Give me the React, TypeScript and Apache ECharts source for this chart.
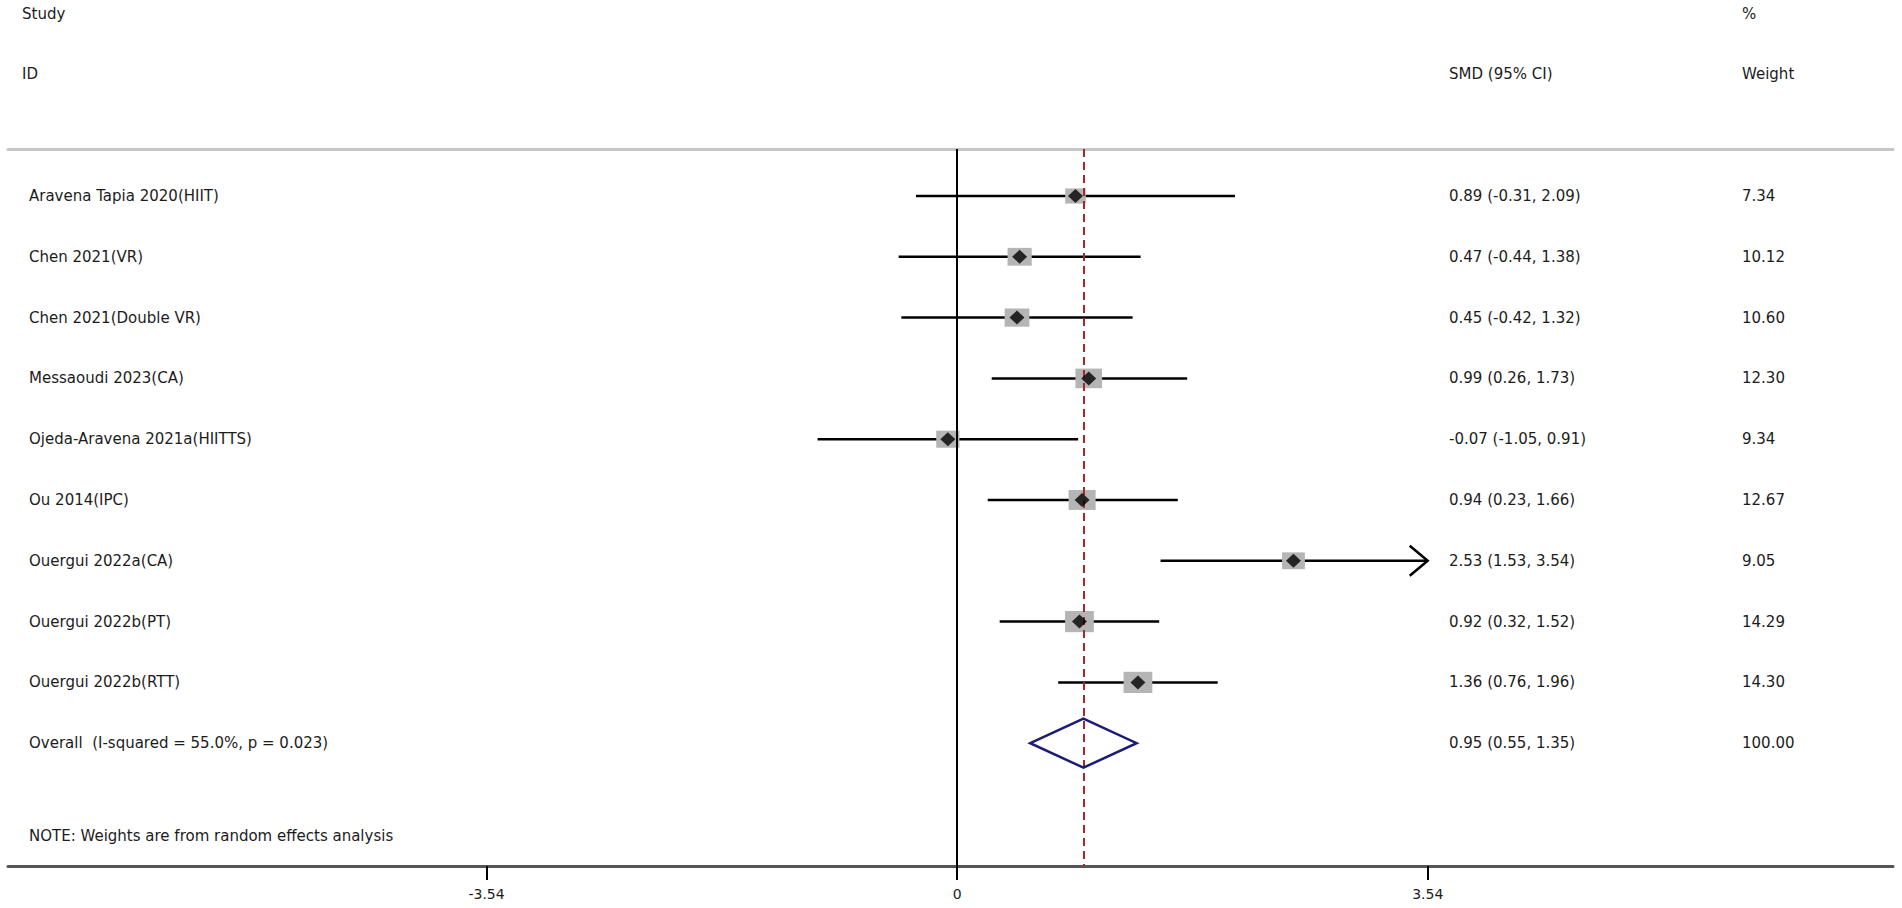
import React, { useEffect, useRef } from "react";
import * as echarts from "echarts";

const studies = [
  "Aravena Tapia 2020(HIIT)",
  "Chen 2021(VR)",
  "Chen 2021(Double VR)",
  "Messaoudi 2023(CA)",
  "Ojeda-Aravena 2021a(HIITTS)",
  "Ou 2014(IPC)",
  "Ouergui 2022a(CA)",
  "Ouergui 2022b(PT)",
  "Ouergui 2022b(RTT)",
];
const smd = [0.89, 0.47, 0.45, 0.99, -0.07, 0.94, 2.53, 0.92, 1.36];
const lower = [-0.31, -0.44, -0.42, 0.26, -1.05, 0.23, 1.53, 0.32, 0.76];
const upper = [2.09, 1.38, 1.32, 1.73, 0.91, 1.66, 3.54, 1.52, 1.96];
const weights = [7.34, 10.12, 10.6, 12.3, 9.34, 12.67, 9.05, 14.29, 14.3];

const overallLabel = "Overall  (I-squared = 55.0%, p = 0.023)";
const overallEst = 0.95;
const overallLower = 0.55;
const overallUpper = 1.35;
const overallWeight = 100.0;

const tickValues = [-3.54, 0, 3.54];
const ciClip = 3.54;
const noteText = "NOTE: Weights are from random effects analysis";

const FONT = "'DejaVu Sans', sans-serif";
const TXT = "#1c1c1c";

const fmtCI = (e: number, l: number, u: number) =>
  `${e.toFixed(2)} (${l.toFixed(2)}, ${u.toFixed(2)})`;

export default function App() {
  const ref = useRef<HTMLDivElement>(null);

  useEffect(() => {
    if (!ref.current) return;
    const chart = echarts.init(ref.current, null, { renderer: "svg" });

    const rowIdx = studies.map((_, i) => i);
    const overallRow = studies.length;
    const labels = [...studies, overallLabel];
    const ciTexts = [
      ...studies.map((_, i) => fmtCI(smd[i], lower[i], upper[i])),
      fmtCI(overallEst, overallLower, overallUpper),
    ];
    const wTexts = [...weights.map((w) => w.toFixed(2)), overallWeight.toFixed(2)];

    const textStyleBase = { fontFamily: FONT, fontSize: 15, fill: TXT };

    const option: any = {
      animation: false,
      grid: { left: 8, right: 9, top: 149, bottom: 42 },
      xAxis: [
        {
          type: "value",
          min: -7.14,
          max: 7.04,
          position: "bottom",
          axisLine: { show: true, onZero: false, lineStyle: { color: "#555555", width: 3 } },
          axisTick: {
            show: true,
            customValues: tickValues,
            length: 14,
            lineStyle: { color: "#000", width: 2 },
          },
          axisLabel: {
            show: true,
            customValues: tickValues,
            formatter: (v: number) => (v === 0 ? "0" : v.toFixed(2)),
            fontFamily: FONT,
            fontSize: 14,
            color: TXT,
            margin: 21,
          },
          splitLine: { show: false },
        },
        {
          type: "value",
          min: -7.14,
          max: 7.04,
          position: "top",
          axisLine: { show: true, onZero: false, lineStyle: { color: "#c6c6c6", width: 3 } },
          axisTick: { show: false },
          axisLabel: { show: false },
          splitLine: { show: false },
        },
      ],
      yAxis: {
        type: "value",
        inverse: true,
        min: -0.773,
        max: 11.02,
        show: false,
      },
      graphic: [
        { type: "text", x: 22, y: 14, style: { ...textStyleBase, text: "Study", verticalAlign: "middle" } },
        { type: "text", x: 22, y: 74, style: { ...textStyleBase, text: "ID", verticalAlign: "middle" } },
        { type: "text", x: 1742, y: 14, style: { ...textStyleBase, text: "%", verticalAlign: "middle" } },
        { type: "text", x: 1449, y: 74, style: { ...textStyleBase, text: "SMD (95% CI)", verticalAlign: "middle" } },
        { type: "text", x: 1742, y: 74, style: { ...textStyleBase, text: "Weight", verticalAlign: "middle" } },
        { type: "text", x: 29, y: 836, style: { ...textStyleBase, text: noteText, verticalAlign: "middle" } },
      ],
      series: [
        {
          // reference lines
          type: "line",
          data: [],
          markLine: {
            silent: true,
            symbol: "none",
            label: { show: false },
            data: [
              { xAxis: 0, lineStyle: { color: "#000", width: 2, type: "solid" } },
              { xAxis: overallEst, lineStyle: { color: "#a32a2a", width: 2, type: [8, 5] } },
            ],
          },
        },
        {
          // confidence interval lines
          type: "custom",
          data: rowIdx.map((i) => [lower[i], upper[i], i]),
          encode: { x: [0, 1], y: 2 },
          z: 3,
          renderItem: (params: any, api: any) => {
            const lo = api.value(0);
            const hi = api.value(1);
            const r = api.value(2);
            const clipped = Math.min(hi, ciClip);
            const p1 = api.coord([lo, r]);
            const p2 = api.coord([clipped, r]);
            const children: any[] = [
              {
                type: "line",
                shape: { x1: p1[0], y1: p1[1], x2: p2[0], y2: p2[1] },
                style: { stroke: "#000", lineWidth: 2.5 },
              },
            ];
            if (hi >= ciClip) {
              children.push({
                type: "polyline",
                shape: {
                  points: [
                    [p2[0] - 18, p2[1] - 15],
                    [p2[0], p2[1]],
                    [p2[0] - 18, p2[1] + 15],
                  ],
                },
                style: { stroke: "#000", lineWidth: 2.5, fill: "none" },
              });
            }
            return { type: "group", children };
          },
        },
        {
          // weight boxes
          type: "custom",
          data: rowIdx.map((i) => [smd[i], i, weights[i]]),
          encode: { x: 0, y: 1 },
          z: 4,
          renderItem: (params: any, api: any) => {
            const c = api.coord([api.value(0), api.value(1)]);
            const s = Math.sqrt(api.value(2));
            const w = 7.6 * s;
            const h = 5.6 * s;
            return {
              type: "rect",
              shape: { x: c[0] - w / 2, y: c[1] - h / 2, width: w, height: h },
              style: { fill: "#b5b5b5" },
            };
          },
        },
        {
          // point estimates
          type: "scatter",
          data: rowIdx.map((i) => [smd[i], i]),
          symbol: "diamond",
          symbolSize: [15, 14],
          itemStyle: { color: "#000" },
          z: 5,
        },
        {
          // overall diamond
          type: "custom",
          data: [[overallLower, overallEst, overallUpper, overallRow]],
          encode: { x: [0, 1, 2], y: 3 },
          z: 6,
          renderItem: (params: any, api: any) => {
            const r = api.value(3);
            const pl = api.coord([api.value(0), r]);
            const pc = api.coord([api.value(1), r]);
            const pr = api.coord([api.value(2), r]);
            const hh = 24.5;
            return {
              type: "polygon",
              shape: {
                points: [
                  [pl[0], pl[1]],
                  [pc[0], pc[1] - hh],
                  [pr[0], pr[1]],
                  [pc[0], pc[1] + hh],
                ],
              },
              style: { stroke: "#1b1b78", lineWidth: 2.5, fill: "none" },
            };
          },
        },
        {
          // text columns
          type: "custom",
          data: labels.map((_, i) => [0, i]),
          encode: { x: 0, y: 1 },
          z: 7,
          renderItem: (params: any, api: any) => {
            const i = params.dataIndex;
            const y = api.coord([0, api.value(1)])[1];
            const mk = (x: number, text: string) => ({
              type: "text",
              x,
              y,
              style: { ...textStyleBase, text, verticalAlign: "middle", align: "left" },
            });
            return {
              type: "group",
              children: [mk(29, labels[i]), mk(1449, ciTexts[i]), mk(1742, wTexts[i])],
            };
          },
        },
      ],
    };

    chart.setOption(option);
    return () => chart.dispose();
  }, []);

  return (
    <div
      ref={ref}
      style={{ position: "fixed", left: 0, top: 0, width: 1902, height: 908, background: "#fff" }}
    />
  );
}
